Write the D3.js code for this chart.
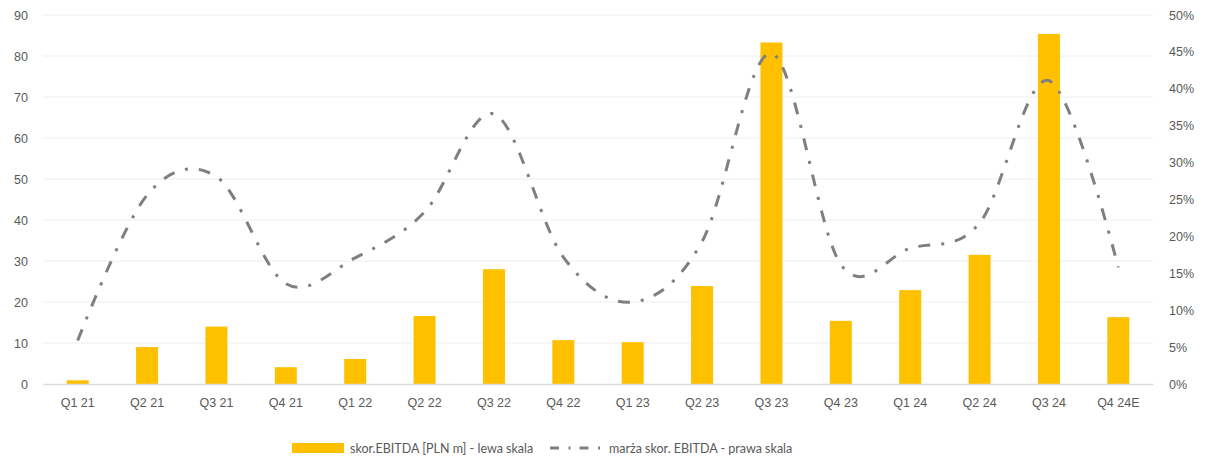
<!DOCTYPE html>
<html>
<head>
<meta charset="utf-8">
<script src="https://cdn.jsdelivr.net/npm/d3@7"></script>
<style>
  html, body { margin: 0; padding: 0; background: #fff; }
  svg { display: block; font-family: Lato, "Open Sans", "Liberation Sans", sans-serif; }
</style>
</head>
<body>
<svg id="chart" width="1206" height="461"></svg>
<script>
// Quarterly categories
const quarters = ["Q1 21", "Q2 21", "Q3 21", "Q4 21", "Q1 22", "Q2 22", "Q3 22", "Q4 22",
                  "Q1 23", "Q2 23", "Q3 23", "Q4 23", "Q1 24", "Q2 24", "Q3 24", "Q4 24E"];
// Adjusted EBITDA, PLN m (left scale)
const ebitda = [0.9, 9.0, 14.0, 4.1, 6.1, 16.6, 28.0, 10.7, 10.2, 23.9, 83.3, 15.4, 22.9, 31.5, 85.4, 16.3];
// Adjusted EBITDA margin (right scale)
const margin = [0.059, 0.256, 0.281, 0.136, 0.171, 0.233, 0.366, 0.172, 0.111, 0.193, 0.448, 0.162, 0.184, 0.218, 0.411, 0.158];
// Axis ticks
const leftTicks = [0, 10, 20, 30, 40, 50, 60, 70, 80, 90];
const rightTicks = [0, 0.05, 0.10, 0.15, 0.20, 0.25, 0.30, 0.35, 0.40, 0.45, 0.50];
// Legend labels
const legendLabels = ["skor.EBITDA [PLN m] - lewa skala", "marża skor. EBITDA - prawa skala"];

const svg = d3.select("#chart");
const plot = { left: 43, right: 1153, top: 15, bottom: 384 };
const textColor = "#595959";
const fontSize = "12.5px";

const x = d3.scaleBand().domain(quarters).range([plot.left, plot.right]);
const yL = d3.scaleLinear().domain([0, 90]).range([plot.bottom, plot.top]);
const yR = d3.scaleLinear().domain([0, 0.5]).range([plot.bottom, plot.top]);
const cx = q => x(q) + x.bandwidth() / 2;

// Horizontal gridlines
svg.append("g")
  .selectAll("line")
  .data(leftTicks.filter(d => d > 0))
  .join("line")
  .attr("x1", plot.left).attr("x2", plot.right)
  .attr("y1", d => yL(d)).attr("y2", d => yL(d))
  .attr("stroke", "#eeeeee").attr("stroke-width", 1);

// Left axis
const leftAxis = svg.append("g")
  .attr("transform", `translate(${plot.left},0)`)
  .call(d3.axisLeft(yL).tickValues(leftTicks).tickSize(0).tickPadding(15));
leftAxis.select(".domain").remove();
leftAxis.selectAll("text").attr("fill", textColor).style("font-size", fontSize);

// Right axis
const rightAxis = svg.append("g")
  .attr("transform", `translate(${plot.right},0)`)
  .call(d3.axisRight(yR).tickValues(rightTicks).tickSize(0).tickPadding(16).tickFormat(d3.format(".0%")));
rightAxis.select(".domain").remove();
rightAxis.selectAll("text").attr("fill", textColor).style("font-size", fontSize);

// Bars
const barW = 22;
svg.append("g")
  .selectAll("rect")
  .data(ebitda)
  .join("rect")
  .attr("x", (d, i) => cx(quarters[i]) - barW / 2)
  .attr("y", d => yL(d))
  .attr("width", barW)
  .attr("height", d => yL(0) - yL(d))
  .attr("fill", "#ffc000");

// Bottom axis
const bottomAxis = svg.append("g")
  .attr("transform", `translate(0,${plot.bottom})`)
  .call(d3.axisBottom(x).tickSize(0).tickPadding(14));
bottomAxis.select(".domain").attr("stroke", "#d9d9d9").attr("stroke-width", 1.5);
bottomAxis.selectAll("text").attr("fill", textColor).style("font-size", fontSize);

// Margin line (smoothed, dash-dot)
const line = d3.line()
  .x((d, i) => cx(quarters[i]))
  .y(d => yR(d))
  .curve(d3.curveCardinal.tension(0));
svg.append("path")
  .datum(margin)
  .attr("d", line)
  .attr("fill", "none")
  .attr("stroke", "#7f7f7f")
  .attr("stroke-width", 3)
  .attr("stroke-dasharray", "12,11,3,11");

// Legend
const legend = svg.append("g").style("font-size", fontSize);
legend.append("rect")
  .attr("x", 292).attr("y", 443).attr("width", 52).attr("height", 10)
  .attr("fill", "#ffc000");
legend.append("text")
  .attr("x", 350).attr("y", 452.5)
  .attr("fill", textColor)
  .text(legendLabels[0]);
legend.append("line")
  .attr("x1", 550).attr("x2", 601).attr("y1", 448).attr("y2", 448)
  .attr("stroke", "#7f7f7f").attr("stroke-width", 3)
  .attr("stroke-dasharray", "9,9.5,2,9");
legend.append("text")
  .attr("x", 609).attr("y", 452.5)
  .attr("fill", textColor)
  .text(legendLabels[1]);
</script>
</body>
</html>
